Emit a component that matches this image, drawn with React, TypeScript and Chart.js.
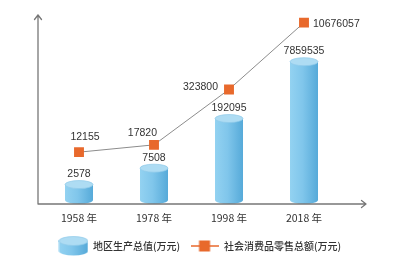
import React, { useEffect, useRef } from "react";
import { Chart, registerables } from "chart.js";

Chart.register(...registerables);

// ---- data ----
const categories = ["1958 年", "1978 年", "1998 年", "2018 年"];
const gdpValues = [2578, 7508, 192095, 7859535];
const retailValues = [12155, 17820, 323800, 10676057];
const gdpName = "地区生产总值(万元)";
const retailName = "社会消费品零售总额(万元)";

// ---- styling ----
const NUM_FONT = "'Liberation Sans', Arial, sans-serif";
const CJK_FONT = "'Noto Sans CJK SC', 'Liberation Sans', sans-serif";
const TEXT_COLOR = "#333333";
const AXIS_COLOR = "#777777";
const LINE_COLOR = "#8c8c8c";
const ORANGE = "#e8692c";

const retailLabelPlacement = [
  { dx: 6, dy: -10, align: "center", baseline: "bottom" },
  { dx: 3, dy: -6, align: "right", baseline: "bottom" },
  { dx: -11, dy: -2, align: "right", baseline: "middle" },
  { dx: 9, dy: 1, align: "left", baseline: "middle" },
];

function drawCylinder(
  ctx: CanvasRenderingContext2D,
  cx: number,
  top: number,
  bottom: number,
  w: number,
  ry: number
) {
  const rx = w / 2;
  const left = cx - rx;
  const right = cx + rx;
  const g = ctx.createLinearGradient(left, 0, right, 0);
  g.addColorStop(0, "#93d2f1");
  g.addColorStop(0.45, "#80c6eb");
  g.addColorStop(1, "#56aad9");
  ctx.save();
  ctx.fillStyle = g;
  ctx.beginPath();
  ctx.moveTo(left, top);
  ctx.lineTo(left, bottom);
  ctx.ellipse(cx, bottom, rx, ry, 0, Math.PI, 0, true);
  ctx.lineTo(right, top);
  ctx.closePath();
  ctx.fill();
  ctx.beginPath();
  ctx.ellipse(cx, top, rx, ry, 0, 0, Math.PI * 2);
  ctx.fillStyle = "#aedcf3";
  ctx.fill();
  ctx.strokeStyle = "#8fcaea";
  ctx.lineWidth = 0.7;
  ctx.stroke();
  ctx.restore();
}

const cylinderPlugin = {
  id: "cylinders",
  afterDatasetDraw(chart: any, args: any) {
    if (args.index !== 0) return;
    const ctx = chart.ctx;
    const meta = chart.getDatasetMeta(0);
    meta.data.forEach((bar: any) => {
      const ry = 4;
      drawCylinder(ctx, bar.x, bar.y, bar.base - ry, bar.width, ry);
    });
  },
};

const axesPlugin = {
  id: "arrowAxes",
  afterDatasetsDraw(chart: any) {
    const { ctx, chartArea } = chart;
    const x0 = chartArea.left - 3.5;
    const y0 = chartArea.bottom;
    const yTop = chartArea.top;
    const xEnd = chartArea.right + 24.5;
    ctx.save();
    ctx.strokeStyle = AXIS_COLOR;
    ctx.lineWidth = 1.3;
    ctx.lineCap = "round";
    ctx.lineJoin = "round";
    ctx.beginPath();
    ctx.moveTo(x0, y0);
    ctx.lineTo(x0, yTop);
    ctx.moveTo(x0 - 3.5, yTop + 4.5);
    ctx.lineTo(x0, yTop);
    ctx.lineTo(x0 + 3.5, yTop + 4.5);
    ctx.moveTo(x0, y0);
    ctx.lineTo(xEnd, y0);
    ctx.moveTo(xEnd - 4.5, y0 - 3.5);
    ctx.lineTo(xEnd, y0);
    ctx.lineTo(xEnd - 4.5, y0 + 3.5);
    ctx.stroke();
    ctx.restore();
  },
};

const valueLabelPlugin = {
  id: "valueLabels",
  afterDatasetsDraw(chart: any) {
    const ctx = chart.ctx;
    ctx.save();
    ctx.font = `10.5px ${NUM_FONT}`;
    ctx.fillStyle = TEXT_COLOR;
    const bars = chart.getDatasetMeta(0).data;
    bars.forEach((bar: any, i: number) => {
      ctx.textAlign = "center";
      ctx.textBaseline = "bottom";
      ctx.fillText(String(gdpValues[i]), bar.x, bar.y - 5);
    });
    const pts = chart.getDatasetMeta(1).data;
    pts.forEach((p: any, i: number) => {
      const pl = retailLabelPlacement[i];
      ctx.textAlign = pl.align;
      ctx.textBaseline = pl.baseline;
      ctx.fillText(String(retailValues[i]), p.x + pl.dx, p.y + pl.dy);
    });
    ctx.restore();
  },
};

function makeCylinderIcon() {
  const c = document.createElement("canvas");
  c.width = 30;
  c.height = 20;
  const ctx = c.getContext("2d")!;
  drawCylinder(ctx, 15, 5, 15, 29, 4.5);
  return c;
}

function makeLineIcon() {
  const c = document.createElement("canvas");
  c.width = 28;
  c.height = 12;
  const ctx = c.getContext("2d")!;
  ctx.strokeStyle = ORANGE;
  ctx.lineWidth = 1.5;
  ctx.beginPath();
  ctx.moveTo(0, 6);
  ctx.lineTo(28, 6);
  ctx.stroke();
  ctx.fillStyle = ORANGE;
  ctx.fillRect(8.5, 0.5, 11, 11);
  return c;
}

export default function App() {
  const canvasRef = useRef<HTMLCanvasElement | null>(null);

  useEffect(() => {
    if (!canvasRef.current) return;
    const cylIcon = makeCylinderIcon();
    const lineIcon = makeLineIcon();
    const chart = new Chart(canvasRef.current, {
      type: "bar",
      data: {
        labels: categories,
        datasets: [
          {
            type: "bar",
            label: gdpName,
            data: gdpValues,
            yAxisID: "yBar",
            backgroundColor: "rgba(0,0,0,0)",
            borderWidth: 0,
            barThickness: 28,
            order: 2,
          },
          {
            type: "line",
            label: retailName,
            data: retailValues,
            yAxisID: "yLine",
            borderColor: LINE_COLOR,
            borderWidth: 1,
            pointStyle: "rect",
            pointRadius: 7,
            pointBackgroundColor: ORANGE,
            pointBorderWidth: 0,
            tension: 0,
            order: 1,
          },
        ],
      } as any,
      options: {
        responsive: true,
        maintainAspectRatio: false,
        animation: false,
        layout: { padding: { top: 15, left: 41.5, right: 41.5, bottom: 2 } },
        plugins: {
          tooltip: { enabled: false },
          legend: {
            position: "bottom",
            labels: {
              usePointStyle: true,
              pointStyleWidth: 29,
              padding: 10,
              color: TEXT_COLOR,
              font: { size: 10, family: CJK_FONT, weight: "500" },
              generateLabels: () => [
                {
                  text: gdpName,
                  pointStyle: cylIcon,
                  fillStyle: "transparent",
                  strokeStyle: "transparent",
                  lineWidth: 0,
                  hidden: false,
                  datasetIndex: 0,
                  fontColor: TEXT_COLOR,
                },
                {
                  text: retailName,
                  pointStyle: lineIcon,
                  fillStyle: "transparent",
                  strokeStyle: "transparent",
                  lineWidth: 0,
                  hidden: false,
                  datasetIndex: 1,
                  fontColor: TEXT_COLOR,
                },
              ],
            },
          },
        },
        scales: {
          x: {
            type: "category",
            offset: true,
            grid: { display: false, drawTicks: false },
            border: { display: false },
            ticks: {
              color: TEXT_COLOR,
              font: { size: 10.5, family: CJK_FONT },
              padding: 8,
            },
            afterFit: (s: any) => {
              s.height = 27;
            },
          },
          yBar: {
            type: "logarithmic",
            position: "left",
            display: false,
            bounds: "data",
            min: 724,
            max: 166000000,
          },
          yLine: {
            type: "logarithmic",
            position: "right",
            display: true,
            bounds: "data",
            min: 807,
            max: 15900000,
            grid: { display: false, drawTicks: false },
            border: { display: false },
            ticks: { display: false },
            afterFit: (s: any) => {
              s.width = 17;
            },
          },
        },
      } as any,
      plugins: [cylinderPlugin, axesPlugin, valueLabelPlugin],
    });
    return () => chart.destroy();
  }, []);

  return (
    <div
      style={{
        position: "fixed",
        left: 0,
        top: 0,
        width: 400,
        height: 263,
        background: "#ffffff",
      }}
    >
      <canvas ref={canvasRef} />
    </div>
  );
}
